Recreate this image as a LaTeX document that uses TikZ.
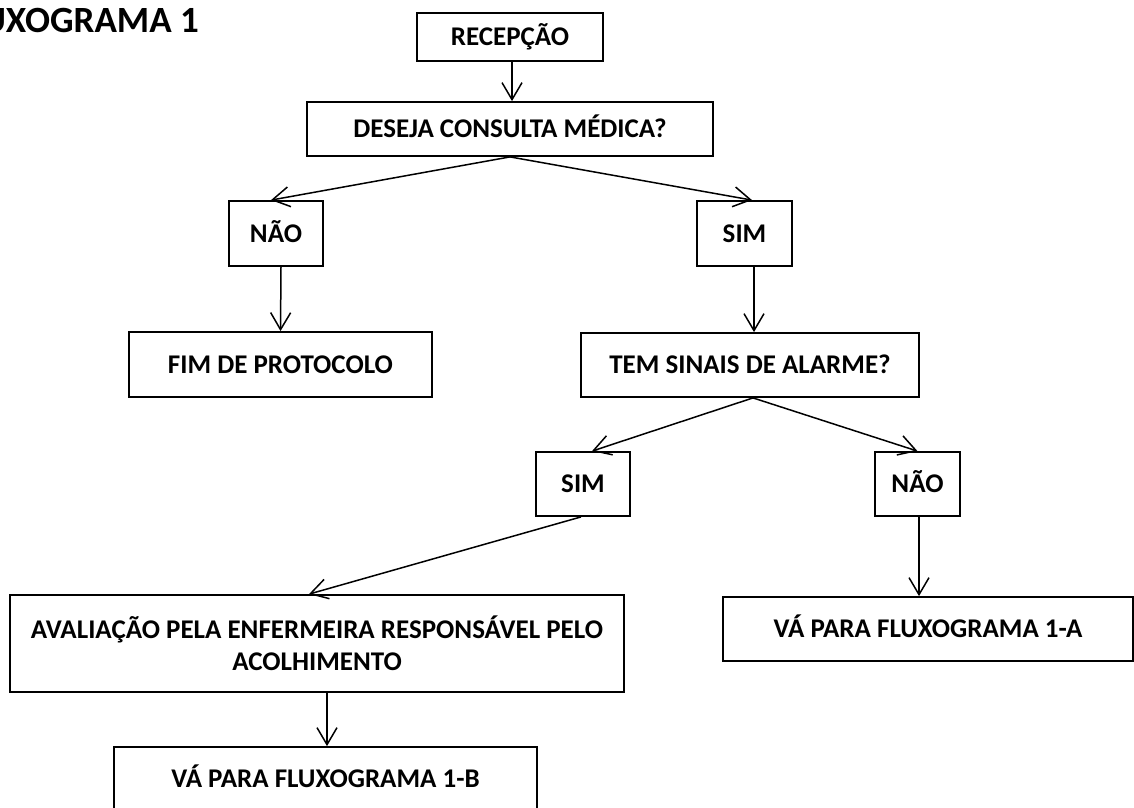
\documentclass[tikz,border=0pt]{standalone}
\usepackage{fontspec}
\setmainfont{Carlito}
\usetikzlibrary{arrows.meta,calc}
\begin{document}
\begin{tikzpicture}[x=1pt,y=-1pt,
  box/.style={draw, line width=1.8pt, rectangle, inner sep=0pt,
    font=\bfseries\fontsize{27}{32}\selectfont, align=center},
  one/.style={text height=17pt, text depth=0pt},
  conn/.style={line width=1.5pt, -{Straight Barb[length=17pt,width=20pt]}},
  ttl/.style={inner sep=0pt, font=\bfseries\fontsize{37}{44}\selectfont}]
\useasboundingbox (0,0) rectangle (1134,807);
\clip (0,0) rectangle (1134,807);
\fill[white] (0,0) rectangle (1134,807);

\node[ttl, anchor=base east] (title) at (199,32) {FLUXOGRAMA 1};

\node[box, one, minimum width=186pt, minimum height=48pt] (recep) at (510,37) {RECEPÇÃO};
\node[box, one, minimum width=406pt, minimum height=54pt] (desej) at (510,129) {DESEJA CONSULTA MÉDICA?};
\node[box, one, minimum width=94pt, minimum height=65pt] (nao1) at (276,233.5) {NÃO};
\node[box, one, minimum width=95pt, minimum height=65pt] (sim1) at (744.5,233.5) {SIM};
\node[box, one, minimum width=303pt, minimum height=65pt] (fim) at (280.5,364.5) {FIM DE PROTOCOLO};
\node[box, one, minimum width=338pt, minimum height=64pt] (tem) at (750,365) {TEM SINAIS DE ALARME?};
\node[box, one, minimum width=94pt, minimum height=64pt] (sim2) at (583,484) {SIM};
\node[box, one, minimum width=85pt, minimum height=64pt] (nao2) at (917.5,484) {NÃO};
\node[box, minimum width=614pt, minimum height=97pt] (aval) at (317,643.5) {AVALIAÇÃO PELA ENFERMEIRA RESPONSÁVEL PELO\\ACOLHIMENTO};
\node[box, one, minimum width=410pt, minimum height=64pt] (vaa) at (928,629) {VÁ PARA FLUXOGRAMA 1-A};
\node[box, one, minimum width=423pt, minimum height=63pt] (vab) at (325.5,778.5) {VÁ PARA FLUXOGRAMA 1-B};

\draw[conn] ($(recep.south)+(2,0)$) -- ($(desej.north)+(2,0)$);
\draw[conn] (desej.south) -- ($(nao1.north)+(-5,0)$);
\draw[conn] (desej.south) -- ($(sim1.north)+(7.5,0)$);
\draw[conn] ($(nao1.south)+(5,0)$) -- (fim.north);
\draw[conn] ($(sim1.south)+(9.5,0)$) -- ($(tem.north)+(4,0)$);
\draw[conn] ($(tem.south)+(3,0)$) -- ($(sim2.north)+(9,0)$);
\draw[conn] ($(tem.south)+(3,0)$) -- (nao2.north);
\draw[conn] ($(nao2.south)+(1.5,0)$) -- ($(vaa.north)+(-9,0)$);
\draw[conn] ($(sim2.south)+(-2,0)$) -- ($(aval.north)+(-8,0)$);
\draw[conn] ($(aval.south)+(10,0)$) -- ($(vab.north)+(1.5,0)$);
\end{tikzpicture}
\end{document}
